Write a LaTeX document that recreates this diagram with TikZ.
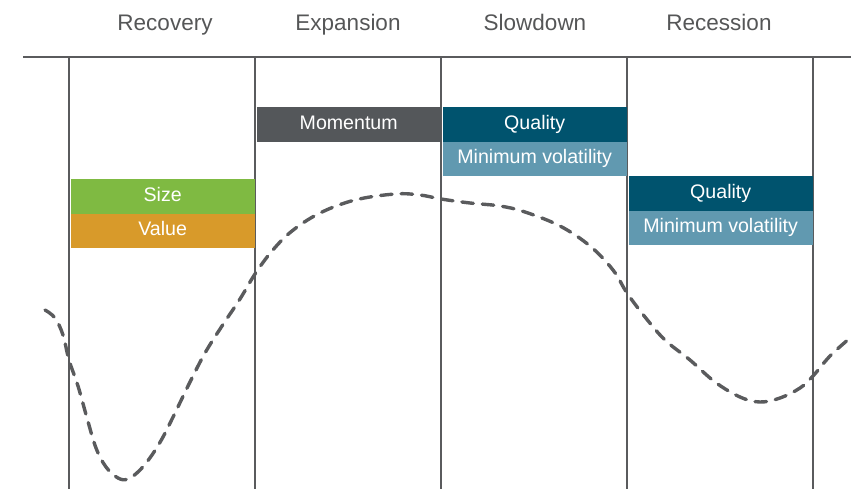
\documentclass[tikz,border=0pt]{standalone}
\usepackage{fontspec}
\setmainfont{Liberation Sans}
\definecolor{linegray}{HTML}{5A5B5D}
\definecolor{textgray}{HTML}{555657}
\definecolor{sizegreen}{HTML}{7FBA42}
\definecolor{valueorange}{HTML}{D89A2A}
\definecolor{momgray}{HTML}{54575A}
\definecolor{qualblue}{HTML}{00536E}
\definecolor{mvblue}{HTML}{6199B0}
\begin{document}
\begin{tikzpicture}[x=1pt,y=-1pt,
  phase/.style={font=\fontsize{22.5}{26}\selectfont, text=textgray, anchor=base, inner sep=0pt},
  factor/.style={font=\fontsize{19.6}{23}\selectfont, text=white, minimum width=184pt, minimum height=34.5pt, inner sep=0pt, text height=14pt, text depth=4pt, anchor=north west},
  divider/.style={draw=linegray, line width=2.4pt},
  cycle/.style={draw=linegray, line width=3.4pt, line cap=round, dash pattern=on 11.5pt off 9pt}]
\useasboundingbox (0,0) rectangle (851,489);
% headers
\node[phase] (rec) at (165,30.5) {Recovery};
\node[phase] (exp) at (348,30.5) {Expansion};
\node[phase] (slo) at (535,30.5) {Slowdown};
\node[phase] (rcs) at (719,30.5) {Recession};
% axis lines
\draw[divider, line width=2.8pt] (23,57) -- (851,57);
\foreach \x in {69,255,441,627,813}{\draw[divider] (\x,57) -- (\x,489);}
% factor boxes
\node[factor, fill=sizegreen] (size) at (70.5,179) {Size};
\node[factor, fill=valueorange] (value) at (70.5,213.5) {Value};
\node[factor, fill=momgray] (mom) at (256.5,107) {Momentum};
\node[factor, fill=qualblue] (q1) at (442.5,107) {Quality};
\node[factor, fill=mvblue] (mv1) at (442.5,141.5) {Minimum volatility};
\node[factor, fill=qualblue] (q2) at (628.5,176) {Quality};
\node[factor, fill=mvblue] (mv2) at (628.5,210.5) {Minimum volatility};
% cycle curve
\draw[cycle] plot[smooth, tension=0.6] coordinates {(45,310) (55,318) (63,335) (69,360) (78,386) (87,418) (96,448) (106,467) (118,478) (128,479) (140,470) (152,455) (163,437) (175,413) (190,382) (205,353) (222,326) (240,299) (255,274) (272,251) (292,231) (320,213) (355,200) (395,194) (420,195) (441,199) (470,203) (500,206) (525,212) (560,226) (590,246) (613,270) (627,293) (645,317) (665,340) (690,360) (715,382) (740,397) (760,402) (780,398) (800,388) (813,376) (830,356) (850,338)};
\end{tikzpicture}
\end{document}
